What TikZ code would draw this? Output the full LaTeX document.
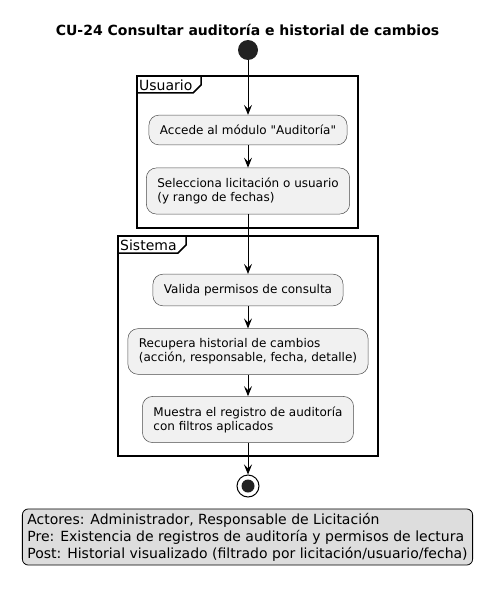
\documentclass[tikz,border=0pt]{standalone}
\usepackage{fontspec}
\setmainfont{DejaVu Sans}[Ligatures=TeXOff]
\usetikzlibrary{shapes, arrows.meta}
\definecolor{actfill}{HTML}{F1F1F1}
\definecolor{notefill}{HTML}{DDDDDD}
\definecolor{dotfill}{HTML}{222222}
\tikzstyle{activity} = [rectangle, draw=black!70, line width=0.5pt, fill=actfill,
    rounded corners=10pt, align=left, font=\fontsize{12}{14}\selectfont,
    inner xsep=11pt, inner ysep=10pt]
\tikzstyle{note} = [rectangle, draw=black, line width=0.8pt, fill=notefill,
    rounded corners=6pt, align=left, font=\fontsize{14}{17}\selectfont,
    inner xsep=5pt, inner ysep=4pt]
\tikzstyle{swimlane} = [draw, line width=1.5pt]
\tikzstyle{lanelabel} = [anchor=west, inner sep=1pt, font=\fontsize{14}{16}\selectfont]
\tikzstyle{startnode} = [circle, fill=dotfill, minimum size=20pt, inner sep=0pt]
\tikzstyle{stopnode} = [circle, draw=black, line width=1pt, fill=white,
    minimum size=22pt, inner sep=0pt]
\tikzstyle{line} = [draw, line width=0.9pt, -{Stealth[length=10pt, width=8pt, inset=4pt]}]

\begin{document}
\begin{tikzpicture}[x=1pt, y=-1pt]
    \useasboundingbox (0,0) rectangle (495,591);
    % Title
    \node [font=\fontsize{14}{17}\selectfont\bfseries] (title) at (247.5,30)
        {CU-24 Consultar auditoría e historial de cambios};
    % Lanes
    \draw [swimlane] (137,76) rectangle (358,228);
    \draw [swimlane] (137,93) -- (193,93) -- (201,85) -- (201,76);
    \node [lanelabel] (usuario) at (138,85) {Usuario};
    \draw [swimlane] (118,236) rectangle (378,456);
    \draw [swimlane] (118,253) -- (178,253) -- (186,245) -- (186,236);
    \node [lanelabel] (sistema) at (119,245) {Sistema};
    % Nodes
    \node [startnode] (start) at (248,50) {};
    \node [activity] (accede) at (248,130) {Accede al módulo "Auditoría"};
    \node [activity] (selecciona) at (248,191) {Selecciona licitación o usuario\\(y rango de fechas)};
    \node [activity] (valida) at (248,290) {Valida permisos de consulta};
    \node [activity] (recupera) at (248,351.5) {Recupera historial de cambios\\(acción, responsable, fecha, detalle)};
    \node [activity] (muestra) at (248,419.5) {Muestra el registro de auditoría\\con filtros aplicados};
    \node [stopnode] (stop) at (248,486) {};
    \fill [dotfill] (stop.center) circle (6.5pt);
    \node [note] (resumen) at (247.5,537) {Actores: Administrador, Responsable de Licitación\\Pre: Existencia de registros de auditoría y permisos de lectura\\Post: Historial visualizado (filtrado por licitación/usuario/fecha)};
    % Edges
    \path [line] (start) -- (accede);
    \path [line] (accede) -- (selecciona);
    \path [line] (selecciona) -- (valida);
    \path [line] (valida) -- (recupera);
    \path [line] (recupera) -- (muestra);
    \path [line] (muestra) -- (stop);
\end{tikzpicture}
\end{document}
